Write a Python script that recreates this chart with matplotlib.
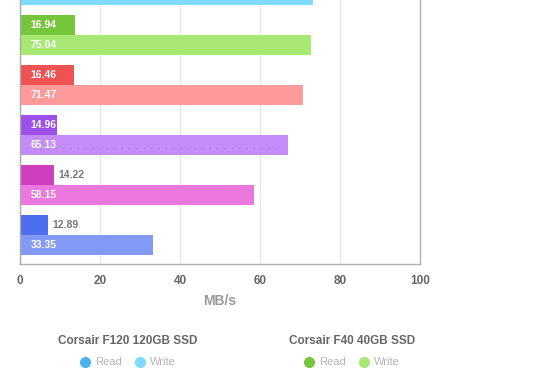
import matplotlib
matplotlib.use("Agg")
import matplotlib.pyplot as plt
from matplotlib.lines import Line2D
import numpy as np

plt.rcParams['font.family'] = ['Liberation Sans', 'DejaVu Sans']

# Products (top to bottom); first one is scrolled mostly out of view
products = ["Corsair F120 120GB SSD", "Corsair F40 40GB SSD", "Drive C", "Drive D", "Drive E", "Drive F"]
# Value labels shown on the bars
read_labels = [None, 16.94, 16.46, 14.96, 14.22, 12.89]
write_labels = [None, 75.04, 71.47, 65.13, 58.15, 33.35]
# Bar lengths as drawn in the picture (MB/s)
read_len = [17.0, 13.75, 13.5, 9.25, 8.5, 7.0]
write_len = [73.3, 72.75, 70.75, 67.0, 58.5, 33.25]

read_colors = ["#4ab3ee", "#76c63c", "#ee5252", "#9c4fe9", "#cf3ebe", "#4d6eef"]
write_colors = ["#7fdafb", "#a8e874", "#ff9a9a", "#c38cf6", "#ea78df", "#8399f6"]

xticks = [0, 20, 40, 60, 80, 100]

W, H = 560, 390
fig = plt.figure(figsize=(W / 100, H / 100), dpi=100)
# axes: left x=20..420 px, y from -44 (above figure) to 264 px
ax = fig.add_axes([20 / W, (H - 264) / H, 400 / W, 308 / H])

n = len(products)
centers = np.arange(n)  # group centre = boundary between read and write bars
bh = 0.4
ax.barh(centers - bh / 2, read_len, height=bh, color=read_colors, zorder=2)
ax.barh(centers + bh / 2, write_len, height=bh, color=write_colors, zorder=2)

for i in range(n):
    for lab, ln, yy in ((read_labels[i], read_len[i], centers[i] - bh / 2),
                        (write_labels[i], write_len[i], centers[i] + bh / 2)):
        if lab is None:
            continue
        txt = f"{lab:.2f}"
        if ln >= 9:
            ax.text(2.6, yy, txt, color="white", fontsize=7.5, fontweight="bold",
                    va="center", ha="left", zorder=3)
        else:
            ax.text(ln + 1.0, yy, txt, color="#777777", fontsize=7.5, fontweight="bold",
                    va="center", ha="left", zorder=3)

# faint dotted artifact inside purple write bar
ax.plot([1.5, 65], [3 + bh / 2 + 0.05] * 2, linestyle=(0, (0.6, 6)), color="#9a6ac8",
        linewidth=0.8, zorder=3)

ax.set_xlim(0, 100)
ax.set_ylim(n - 1 + 0.58, -0.58)
ax.set_xticks(xticks)
ax.set_xticklabels([str(t) for t in xticks], color="#666666", fontsize=8.5, fontweight="bold")
ax.tick_params(axis="x", length=0, pad=8)
ax.set_yticks([])
ax.grid(axis="x", color="#e8e8e8", linewidth=1, zorder=0)
ax.set_axisbelow(True)
for s in ("left", "bottom", "right"):
    ax.spines[s].set_color("#b0b0b0")
    ax.spines[s].set_linewidth(1)
ax.spines["left"].set_color("#aaaaaa")
ax.spines["top"].set_visible(False)
ax.set_xlabel("MB/s", color="#999999", fontsize=10, fontweight="bold", labelpad=5)

# Legend (custom)
def legend_group(xc, title, c_read, c_write):
    fig.text(xc / W, 1 - 341 / H, title, ha="center", va="center", fontsize=8.5,
             fontweight="bold", color="#666666")
    y = 1 - 362 / H
    fig.add_artist(Line2D([(xc - 43) / W], [y], marker="o", markersize=7, color=c_read,
                          linestyle="none", transform=fig.transFigure))
    fig.text((xc - 33) / W, y, "Read", ha="left", va="center", fontsize=8, color="#b5b5b5")
    fig.add_artist(Line2D([(xc + 12) / W], [y], marker="o", markersize=7, color=c_write,
                          linestyle="none", transform=fig.transFigure))
    fig.text((xc + 22) / W, y, "Write", ha="left", va="center", fontsize=8, color="#b5b5b5")

legend_group(128, products[0], read_colors[0], write_colors[0])
legend_group(352, products[1], read_colors[1], write_colors[1])

fig.savefig("out.png", dpi=100)
